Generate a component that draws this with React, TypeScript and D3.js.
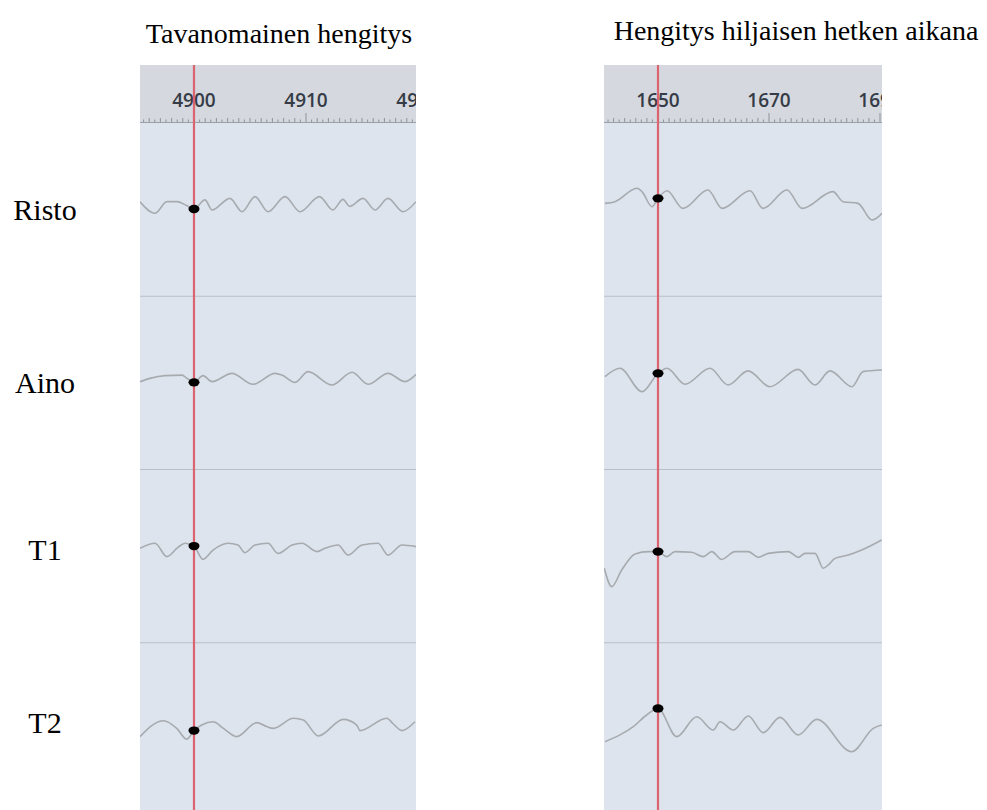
import React from 'react';
import * as d3 from 'd3';

// ---------- data ----------
const rowNames = ['Risto', 'Aino', 'T1', 'T2'];
const panelTitles = ['Tavanomainen hengitys', 'Hengitys hiljaisen hetken aikana'];

const leftDomain: [number, number] = [4895.18, 4919.82];
const rightDomain: [number, number] = [1640.27, 1690.36];
const leftTicks = [4900, 4910, 4920];
const rightTicks = [1650, 1670, 1690];
const leftMinorStep = 0.5;
const rightMinorStep = 1;
const leftCursor = 4900;
const rightCursor = 1650;

type P = [number, number];

const ristoLeft: P[] = [
  [4895.18, 4.6], [4896.52, -2.1], [4897.59, 4.6], [4898.48, 4.6], [4899.29, 2.5], [4900, 0.4],
  [4900.98, 5.6], [4901.61, -0.2], [4903.21, 6.5], [4904.29, -1.2], [4905.45, 7.5], [4906.61, -1.2],
  [4908.13, 7.5], [4909.46, -1.2], [4911.2, 7.5], [4912.4, -0.2], [4913.3, 5.9], [4913.9, 1.9],
  [4915.09, 6.5], [4916.16, -0.2], [4917.32, 6.5], [4918.66, -1.2], [4919.82, 4.6],
];
const ristoRight: P[] = [
  [1640.45, 3.6], [1642.25, 4.6], [1646.22, 12.3], [1647.12, 10.4], [1648.92, 1.7], [1650, 6.5],
  [1651.62, 10.9], [1654.5, 0.7], [1659.01, 11.3], [1661.53, 0.7], [1666.58, 10.9], [1668.92, 0.7],
  [1673.24, 11.3], [1675.95, 0.7], [1681.53, 10.4], [1683.33, 4.6], [1686.04, 3.6], [1688.56, -6.0],
  [1690.36, -2.1],
];
const ainoLeft: P[] = [
  [4895.18, 0.7], [4896.07, 2.6], [4897.41, 4.2], [4898.93, 4.5], [4899.38, 2.6], [4900, 0.3],
  [4900.8, 4.2], [4901.61, 0.7], [4903.39, 5.5], [4905.27, -0.8], [4907.23, 5.5], [4907.86, 4.5],
  [4909.02, 0.3], [4910.18, 6.5], [4912.32, -1.2], [4914.11, 6.1], [4915.54, -0.8], [4917.32, 5.5],
  [4918.84, 0.7], [4919.82, 4.9],
];
const ainoRight: P[] = [
  [1640.45, 3.6], [1643.15, 8.4], [1647.12, -5.1], [1650, 5.5], [1651.62, 8.4], [1654.86, -0.8],
  [1659.37, 8.4], [1662.61, -1.2], [1666.22, 6.9], [1670.18, -2.2], [1675.23, 7.8], [1678.29, -1.2],
  [1680.99, 6.9], [1684.95, -2.2], [1686.94, 6.5], [1690.36, 7.4],
];
const t1Left: P[] = [
  [4895.18, 4.5], [4896.52, 7.4], [4897.59, -0.3], [4898.57, 5.1], [4899.2, 7.4], [4900, 5.8],
  [4900.8, -1.9], [4901.7, 3.5], [4903.04, 7.4], [4903.93, 6.4], [4904.55, 2.0], [4905.45, 6.4],
  [4906.61, 7.4], [4907.5, 1.6], [4908.75, 6.4], [4909.64, 7.4], [4910.98, 2.6], [4911.7, 4.5],
  [4912.86, 6.4], [4913.75, 0.6], [4915.0, 6.4], [4916.43, 7.4], [4917.32, 0.6], [4918.57, 6.4],
  [4919.82, 5.5],
];
const t1Right: P[] = [
  [1640.32, -7.0], [1641.66, -17.6], [1643.46, -8.0], [1645.86, 1.2], [1648.25, 2.6], [1650, 2.6],
  [1651.57, -0.3], [1653.06, 2.6], [1656.07, 2.2], [1658.16, -0.3], [1659.68, 2.6], [1661.48, -1.9],
  [1663.87, 2.6], [1666.27, 2.6], [1668.07, -0.7], [1669.87, 1.6], [1673.48, 2.6], [1675.28, -0.7],
  [1676.49, 1.6], [1678.29, 1.6], [1679.78, -7.0], [1680.68, -5.1], [1681.89, -1.3], [1684.29, 0.6],
  [1686.7, 3.5], [1690.31, 9.3],
];
const t2Left: P[] = [
  [4895.18, -4.2], [4897.26, 5.0], [4898.46, 0.6], [4899.35, -5.7], [4900, -0.7], [4900.69, 2.5],
  [4901.72, 4.4], [4902.62, 0.6], [4903.81, -4.2], [4905.6, 3.9], [4906.49, 1.6], [4907.08, 0.6],
  [4908.87, 6.4], [4909.76, 5.4], [4911.1, -3.8], [4913.33, 5.8], [4914.53, 2.5], [4914.82, -0.7],
  [4917.21, 6.4], [4917.8, 3.1], [4918.55, -0.7], [4919.73, 4.4],
];
const t2Right: P[] = [
  [1640.45, -7.1], [1643.15, -3.2], [1645.55, 1.6], [1647.96, 8.3], [1650, 12.1], [1653.37, -4.2],
  [1656.97, 7.3], [1659.96, -0.4], [1661.17, 4.4], [1663.57, -0.4], [1666.27, 7.7], [1668.97, -1.9],
  [1671.98, 6.9], [1675.28, -3.2], [1678.59, 5.8], [1684.9, -12.9], [1688.79, 0.6], [1690.31, 2.5],
];

const leftSeries = [ristoLeft, ainoLeft, t1Left, t2Left];
const rightSeries = [ristoRight, ainoRight, t1Right, t2Right];

// ---------- layout ----------
const W = 987;
const H = 810;
const panelTop = 65;
const headerBottom = 123;
const rowsBottom = 816;

const panels = [
  { x0: 140, x1: 416, domain: leftDomain, ticks: leftTicks, minor: leftMinorStep, cursor: leftCursor, series: leftSeries, title: panelTitles[0], titleX: 279, titleY: 43 },
  { x0: 604, x1: 882, domain: rightDomain, ticks: rightTicks, minor: rightMinorStep, cursor: rightCursor, series: rightSeries, title: panelTitles[1], titleX: 796, titleY: 40 },
];

const rowBand = d3.scaleBand<string>().domain(rowNames).range([headerBottom, rowsBottom]).paddingInner(0).paddingOuter(0);

function valueAt(series: P[], x: number): number {
  const i = d3.bisector((d: P) => d[0]).left(series, x);
  if (i <= 0) return series[0][1];
  if (i >= series.length) return series[series.length - 1][1];
  const a = series[i - 1];
  const b = series[i];
  const t = (x - a[0]) / (b[0] - a[0]);
  return a[1] + t * (b[1] - a[1]);
}

function Panel({ p, idx }: { p: typeof panels[number]; idx: number }) {
  const x = d3.scaleLinear().domain(p.domain).range([p.x0, p.x1]);
  const clipId = `clip-${idx}`;
  const minorTicks = d3.range(Math.ceil(p.domain[0] / p.minor) * p.minor, p.domain[1], p.minor);
  const cx = x(p.cursor);
  return (
    <g>
      <defs>
        <clipPath id={clipId}>
          <rect x={p.x0} y={panelTop} width={p.x1 - p.x0} height={H - panelTop} />
        </clipPath>
      </defs>
      <text x={p.titleX} y={p.titleY} textAnchor="middle" fontFamily="'Liberation Serif', 'Times New Roman', serif" fontSize={28} fill="#000">
        {p.title}
      </text>
      <g clipPath={`url(#${clipId})`}>
        <rect x={p.x0} y={panelTop} width={p.x1 - p.x0} height={H - panelTop} fill="#dee4ed" />
        <rect x={p.x0} y={panelTop} width={p.x1 - p.x0} height={headerBottom - panelTop} fill="#d5d8de" />
        <line x1={p.x0} x2={p.x1} y1={headerBottom - 0.5} y2={headerBottom - 0.5} stroke="#9aa0a8" strokeWidth={1} />
        {minorTicks.map((t, i) => {
          const major = p.ticks.some((m) => Math.abs(m - t) < 1e-6);
          const mid = Math.abs(Math.round(t / (p.minor * 2)) * p.minor * 2 - t) < 1e-6;
          const h = major ? 9 : mid ? 4 : 2.5;
          return <line key={i} x1={x(t)} x2={x(t)} y1={headerBottom - 1} y2={headerBottom - 1 - h} stroke="#8d939b" strokeWidth={1} />;
        })}
        {p.ticks.map((t) => (
          <text key={t} x={x(t)} y={107} textAnchor="middle" fontFamily="'Open Sans', 'DejaVu Sans', sans-serif" fontWeight={600} fontSize={19} fill="#363c47">
            {t}
          </text>
        ))}
        {rowNames.slice(1).map((r) => (
          <line key={r} x1={p.x0} x2={p.x1} y1={rowBand(r)!} y2={rowBand(r)!} stroke="#b9bec6" strokeWidth={1.2} />
        ))}
        {p.series.map((s, i) => {
          const top = rowBand(rowNames[i])!;
          const y = d3.scaleLinear().domain([-50, 50]).range([top + rowBand.bandwidth(), top]);
          const line = d3.line<P>().x((d) => x(d[0])).y((d) => y(d[1])).curve(d3.curveMonotoneX);
          return <path key={i} d={line(s) || ''} fill="none" stroke="#a7aaaf" strokeWidth={1.6} strokeLinejoin="round" />;
        })}
        <line x1={cx} x2={cx} y1={panelTop} y2={H} stroke="#dc6470" strokeWidth={2.2} />
        {p.series.map((s, i) => {
          const top = rowBand(rowNames[i])!;
          const y = d3.scaleLinear().domain([-50, 50]).range([top + rowBand.bandwidth(), top]);
          return <ellipse key={i} cx={cx} cy={y(valueAt(s, p.cursor))} rx={5.5} ry={4.2} fill="#000" />;
        })}
      </g>
    </g>
  );
}

export default function App() {
  return (
    <div style={{ position: 'absolute', left: 0, top: 0, width: W, height: H, background: '#fff' }}>
      <svg width={W} height={H} viewBox={`0 0 ${W} ${H}`} style={{ display: 'block' }}>
        <rect x={0} y={0} width={W} height={H} fill="#fff" />
        {panels.map((p, i) => (
          <Panel key={i} p={p} idx={i} />
        ))}
        {rowNames.map((r, i) => (
          <text
            key={r}
            x={45}
            y={rowBand(r)! + rowBand.bandwidth() / 2 + (i < 2 ? 10 : 4)}
            textAnchor="middle"
            fontFamily="'Liberation Serif', 'Times New Roman', serif"
            fontSize={30}
            fill="#000"
          >
            {r}
          </text>
        ))}
      </svg>
    </div>
  );
}
